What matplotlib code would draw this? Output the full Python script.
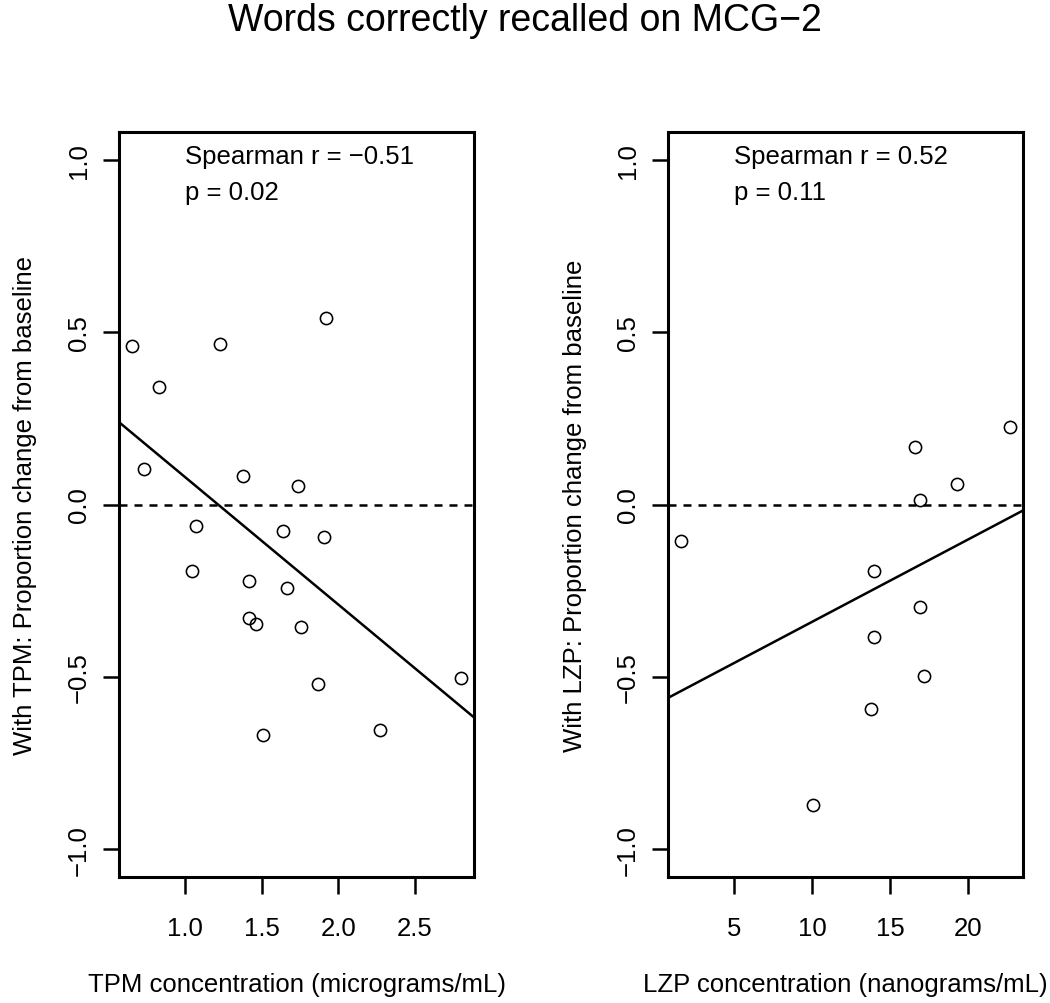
import numpy as np
import matplotlib.pyplot as plt

plt.rcParams['font.family'] = ['Liberation Sans', 'DejaVu Sans']

# TPM panel
tpm_conc = [0.653, 1.229, 1.917, 0.830, 0.733, 1.377, 1.735, 1.069, 1.637, 1.906,
            1.041, 1.419, 1.665, 1.419, 1.460, 1.755, 1.866, 2.801, 1.508, 2.275]
tpm_change = [0.459, 0.466, 0.540, 0.341, 0.102, 0.084, 0.055, -0.062, -0.076, -0.093,
              -0.193, -0.221, -0.241, -0.330, -0.347, -0.354, -0.519, -0.504, -0.667, -0.653]
tpm_fit = (0.448, -0.369)   # intercept, slope
tpm_xticks = [1.0, 1.5, 2.0, 2.5]
tpm_stats = ["Spearman r = \u22120.51", "p = 0.02"]

# LZP panel
lzp_conc = [16.59, 22.71, 19.29, 16.93, 1.57, 13.95, 16.96, 13.99, 17.17, 13.78, 10.04]
lzp_change = [0.166, 0.226, 0.059, 0.012, -0.106, -0.193, -0.298, -0.384, -0.497, -0.593, -0.870]
lzp_fit = (-0.578, 0.0238)
lzp_xticks = [5, 10, 15, 20]
lzp_stats = ["Spearman r = 0.52", "p = 0.11"]

yticks = [-1.0, -0.5, 0.0, 0.5, 1.0]

fig = plt.figure(figsize=(10.5, 10.04), dpi=100)
W, H = 1050, 1004


def panel(left_px, x, y, fit, xticks, fmt, stats, text_x, xlabel, ylabel):
    ax = fig.add_axes([left_px / W, 1 - 878 / H, 355 / W, 745 / H])
    lo, hi = min(x), max(x)
    pad = 0.04 * (hi - lo)
    ax.set_xlim(lo - pad, hi + pad)
    ax.set_ylim(-1.08, 1.08)
    ax.plot(x, y, 'o', ms=8.8, mfc='none', mec='black', mew=1.15)
    ax.axhline(0, color='black', lw=1.8, linestyle=(0, (3.2, 2.8)))
    ax.axline((0, fit[0]), slope=fit[1], color='black', lw=1.8)
    ax.set_xticks(xticks)
    ax.set_xticklabels([fmt.format(v) for v in xticks])
    ax.set_yticks(yticks)
    ax.set_yticklabels(['{:.1f}'.format(v).replace('-', '\u2212') for v in yticks],
                       rotation=90, va='center')
    ax.tick_params(axis='x', length=12.2, width=1.8, pad=16, labelsize=18.5)
    ax.tick_params(axis='y', length=11.5, width=1.8, pad=9, labelsize=18.5)
    for s in ax.spines.values():
        s.set_linewidth(2.2)
    ax.text(text_x, 1.01, stats[0], fontsize=18.5, va='center', ha='left')
    ax.text(text_x, 0.907, stats[1], fontsize=18.5, va='center', ha='left')
    ax.set_xlabel(xlabel, fontsize=18.5, va='center')
    ax.xaxis.set_label_coords(0.5, (878 - 985) / 745)
    ax.set_ylabel(ylabel, fontsize=18.5, va='center')
    ax.yaxis.set_label_coords((25 - left_px) / 355 if left_px < 500 else (575 - left_px) / 355, 0.5)
    return ax


panel(119, tpm_conc, tpm_change, tpm_fit, tpm_xticks, '{:.1f}', tpm_stats, 1.0,
      'TPM concentration (micrograms/mL)', 'With TPM: Proportion change from baseline')
panel(668, lzp_conc, lzp_change, lzp_fit, lzp_xticks, '{:d}', lzp_stats, 5.0,
      'LZP concentration (nanograms/mL)', 'With LZP: Proportion change from baseline')

fig.text(0.5, 1 - 31 / H, 'Words correctly recalled on MCG\u22122', fontsize=27,
         ha='center', va='baseline')

fig.savefig('out.png', dpi=100)
